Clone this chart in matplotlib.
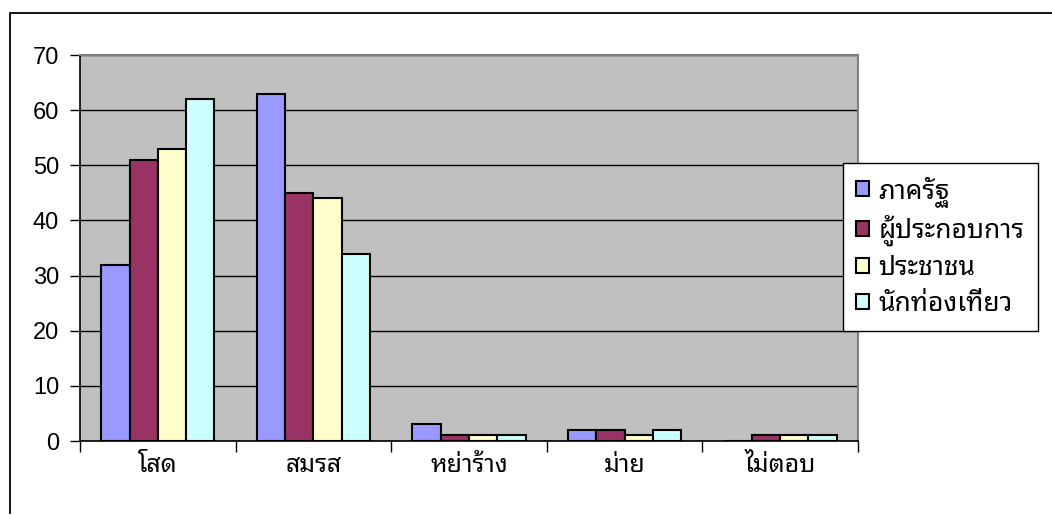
import matplotlib
matplotlib.use("Agg")
import matplotlib.pyplot as plt
from matplotlib.lines import Line2D
import numpy as np

# ข้อมูล
categories = ['โสด', 'สมรส', 'หย่าร้าง', 'ม่าย', 'ไม่ตอบ']
series_names = ['ภาครัฐ', 'ผู้ประกอบการ', 'ประชาชน', 'นักท่องเที่ยว']
val_govt = [32, 63, 3, 2, 0]
val_business = [51, 45, 1, 2, 1]
val_public = [53, 44, 1, 1, 1]
val_tourist = [62, 34, 1, 2, 1]
yticks = [0, 10, 20, 30, 40, 50, 60, 70]

colours = ['#9999FF', '#993366', '#FFFFCC', '#CCFFFF']
thai_font = ['Noto Sans Thai Looped', 'Loma', 'DejaVu Sans']

W, H = 1052, 515
fig = plt.figure(figsize=(W / 100, H / 100), dpi=100)

# cadre exterieur (gauche et haut seulement)
fig.add_artist(Line2D([10 / W, 10 / W, 1.0], [1 - 513 / H, 1 - 13 / H, 1 - 13 / H],
                      transform=fig.transFigure, color='black', linewidth=1.3))

ax = fig.add_axes([80 / W, 1 - 441 / H, (858 - 80) / W, (441 - 55) / H])
ax.set_facecolor('#C0C0C0')

x = np.arange(len(categories))
w = 1 / 5.5
all_vals = [val_govt, val_business, val_public, val_tourist]
for i, vals in enumerate(all_vals):
    ax.bar(x + (i - 1.5) * w, vals, w, color=colours[i], edgecolor='black',
           linewidth=1.5, label=series_names[i], zorder=3)

ax.set_xlim(-0.5, len(categories) - 0.5)
ax.set_ylim(0, 70)
ax.set_yticks(yticks)
ax.set_yticklabels([str(v) for v in yticks], family='Liberation Sans', fontsize=17)
ax.yaxis.grid(True, color='black', linewidth=1, zorder=1)
ax.tick_params(axis='y', length=7, width=1, pad=8)

ax.set_xticks(x)
ax.set_xticklabels(categories, family=thai_font, fontsize=18)
ax.set_xticks(np.arange(len(categories) + 1) - 0.5, minor=True)
ax.tick_params(axis='x', which='major', length=0, pad=9)
ax.tick_params(axis='x', which='minor', length=8, width=1)

for s in ['left', 'bottom']:
    ax.spines[s].set_color('black')
    ax.spines[s].set_linewidth(1.2)
for s in ['top', 'right']:
    ax.spines[s].set_color('#808080')
    ax.spines[s].set_linewidth(1.5)

leg = ax.legend(loc='upper left', bbox_to_anchor=(843 / W, 1 - 163 / H),
                bbox_transform=fig.transFigure, borderaxespad=0,
                prop={'family': thai_font, 'size': 19}, fancybox=False,
                edgecolor='black', framealpha=1, handlelength=0.5,
                handleheight=0.5, handletextpad=0.35, labelspacing=0.3,
                borderpad=0.5)
leg.get_frame().set_linewidth(1)

fig.savefig('out.png', dpi=100)
